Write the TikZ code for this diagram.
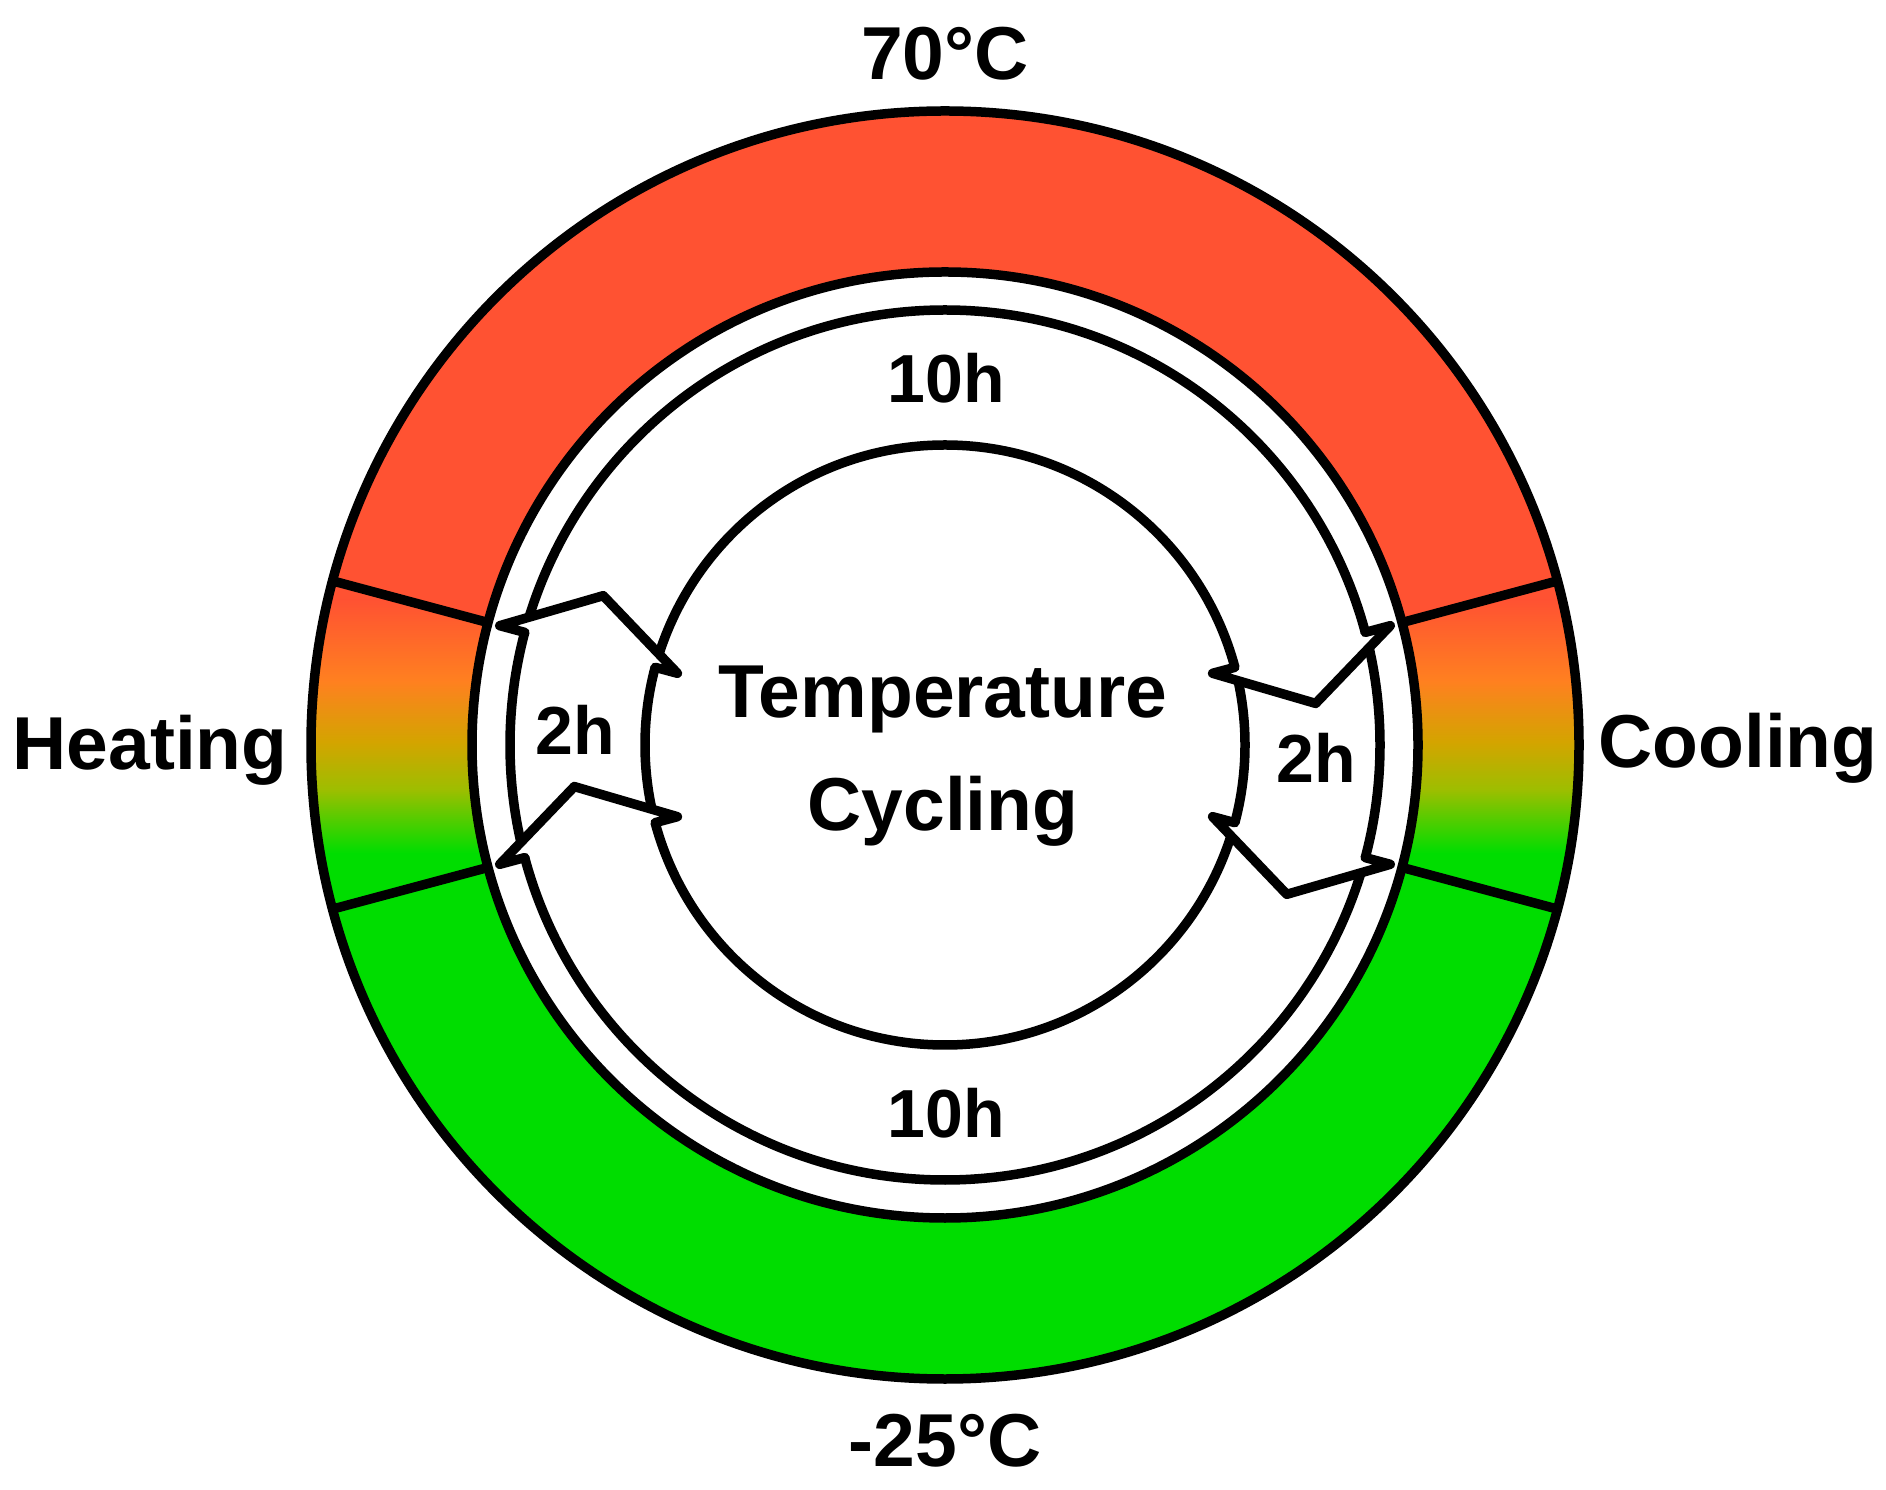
\documentclass[tikz,border=0pt]{standalone}
\usepackage{fontspec}
\setmainfont{Liberation Sans}
\definecolor{hotred}{HTML}{FF5232}
\definecolor{coldgreen}{HTML}{00DD00}
\definecolor{midorange}{HTML}{FF8020}
\definecolor{midgold}{HTML}{D4A400}
\definecolor{midolive}{HTML}{9DBE00}
\pgfdeclareverticalshading{heatcool}{100bp}{color(0bp)=(coldgreen); color(25bp)=(coldgreen); color(37.5bp)=(midolive); color(47bp)=(midgold); color(59bp)=(midorange); color(75bp)=(hotred); color(100bp)=(hotred)}
\begin{document}
\begin{tikzpicture}[x=1pt,y=1pt,
  ringline/.style={line width=9.5pt},
  lbl/.style={font=\bfseries\fontsize{75}{80}\selectfont, inner sep=0pt, anchor=base},
  slbl/.style={font=\bfseries\fontsize{68}{72}\selectfont, inner sep=0pt, anchor=base},
  headline/.style={line width=9.5pt, line join=round, line cap=round}]
\useasboundingbox (0,0) rectangle (1886,1489);
\fill[white] (0,0) rectangle (1886,1489);
\coordinate (c) at (945,744);
\begin{scope}[shift={(c)}]
  % coloured ring
  \fill[hotred] (15:634pt) arc[start angle=15,end angle=165,radius=634pt] -- (165:473pt) arc[start angle=165,end angle=15,radius=473pt] -- cycle;
  \fill[coldgreen] (195:634pt) arc[start angle=195,end angle=345,radius=634pt] -- (345:473pt) arc[start angle=345,end angle=195,radius=473pt] -- cycle;
  \begin{scope}
    \clip (-15:634pt) arc[start angle=-15,end angle=15,radius=634pt] -- (15:473pt) arc[start angle=15,end angle=-15,radius=473pt] -- cycle
          (165:634pt) arc[start angle=165,end angle=195,radius=634pt] -- (195:473pt) arc[start angle=195,end angle=165,radius=473pt] -- cycle;
    \fill[hotred] (-700,144) rectangle (700,300);
    \fill[coldgreen] (-700,-300) rectangle (700,-107);
    \shade[shading=heatcool] (-700,-108) rectangle (700,145);
  \end{scope}
  \draw[ringline] (0,0) circle[radius=634pt];
  \draw[ringline] (0,0) circle[radius=473pt];
  \foreach \a in {15,165,195,345}
    \draw[ringline] (\a:473pt) -- (\a:634pt);
  % cycle arrows
  \draw[ringline] (0,0) circle[radius=300pt];
  \draw[ringline] (0,0) circle[radius=435pt];
  \foreach \w/\t in {15/6.4, -15/-23.6, 195/186.4, 165/156.4} {
    \fill[white] (\w:277pt) -- (\t:373pt) -- (\w:461pt) -- cycle;
    \draw[headline] (\w:300pt) -- (\w:277pt) -- (\t:373pt) -- (\w:461pt) -- (\w:435pt);
  }
\end{scope}
\node[lbl] (hot) at (945,1409) {70°C};
\node[lbl] (cold) at (945,23) {-25°C};
\node[lbl] (heat) at (150,719) {Heating};
\node[lbl] (cool) at (1738,721) {Cooling};
\node[lbl] (temp) at (943,771) {Temperature};
\node[lbl] (cyc) at (943,658) {Cycling};
\node[slbl] (tentop) at (946,1086) {10h};
\node[slbl] (tenbot) at (946,352) {10h};
\node[slbl] (twol) at (575,734) {2h};
\node[slbl] (twor) at (1316,706) {2h};
\end{tikzpicture}
\end{document}
